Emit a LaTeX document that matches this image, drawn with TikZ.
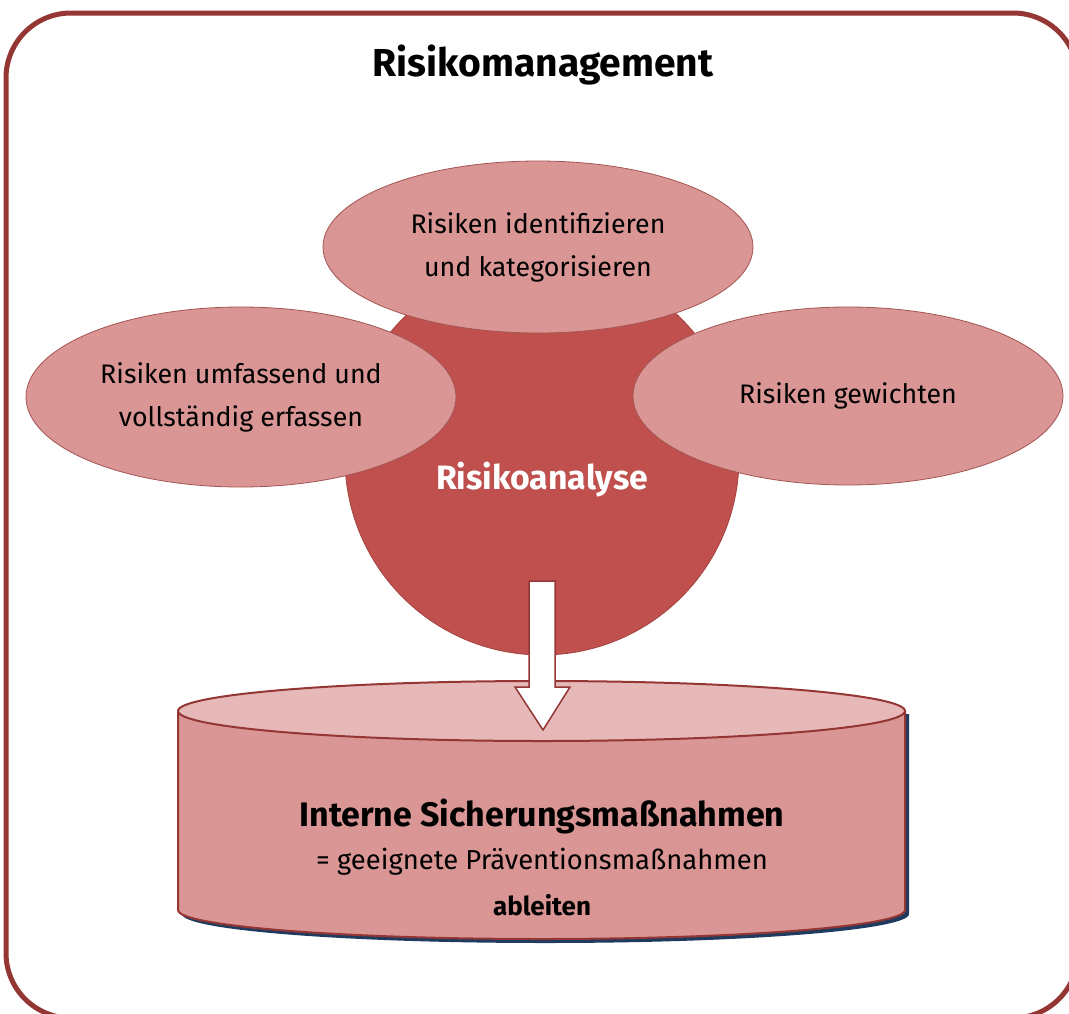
\documentclass[tikz,border=0pt]{standalone}
\usepackage{fontspec}
\setmainfont{Fira Sans}
\usetikzlibrary{shapes.geometric}
\definecolor{rahmen}{HTML}{943634}
\definecolor{kreis}{HTML}{C0504D}
\definecolor{hell}{HTML}{D99694}
\definecolor{deckel}{HTML}{E6B9B8}
\definecolor{schatten}{HTML}{1F3B5F}

\begin{document}
\begin{tikzpicture}[x=1pt,y=-1pt,
    blase/.style={ellipse, draw=rahmen!85, fill=hell, line width=0.8pt, inner sep=0pt,
      minimum width=430pt, minimum height=172pt, align=center,
      font=\fontsize{26.8}{43}\selectfont}]
    \useasboundingbox (0,0) rectangle (1069,1013);
    % Rahmen
    \begin{scope}
      \clip (0,0) rectangle (1069,1013);
      \draw[rahmen, line width=5pt, rounded corners=65pt] (6,13) rectangle (1078,1018);
    \end{scope}
    \node[font=\fontsize{39}{45}\selectfont\bfseries] (titel) at (543,65) {Risikomanagement};

    \node[circle, fill=kreis, draw=kreis!85!black, line width=0.8pt, minimum size=394pt, inner sep=0pt] (analyse) at (542,458) {};
    \node[blase] (identifizieren) at (538,247) {Risiken identifizieren\\und kategorisieren};
    \node[blase, minimum height=180pt] (erfassen) at (241,397) {Risiken umfassend und\\vollständig erfassen};
    \node[blase, minimum height=178pt] (gewichten) at (848,396) {Risiken gewichten};
    \node[text=white, font=\fontsize{33.8}{38}\selectfont\bfseries] (analysetext) at (542,480) {Risikoanalyse};

    % Zylinder mit Schatten
    \fill[schatten] (182,714) -- (182,914) arc[start angle=180, end angle=0, x radius=363.5, y radius=29] -- (909,714) -- cycle;
    \draw[rahmen, line width=2pt, fill=hell] (178,711) -- (178,910) arc[start angle=180, end angle=0, x radius=363.5, y radius=29] -- (905,711) -- cycle;
    \draw[rahmen, line width=2pt, fill=deckel] (541.5,711) ellipse [x radius=363.5, y radius=30];

    \draw[rahmen, line width=1.5pt, fill=white] (529,581) -- (555,581) -- (555,687) -- (570,687) -- (543,730) -- (515,687) -- (529,687) -- cycle;

    \node[font=\fontsize{34}{38}\selectfont\bfseries] (massnahmen) at (542,816) {Interne Sicherungsmaßnahmen};
    \node[font=\fontsize{27.4}{30}\selectfont] (praevention) at (542,862) {= geeignete Präventionsmaßnahmen};
    \node[font=\fontsize{26}{30}\selectfont\bfseries] (ableiten) at (542,905) {ableiten};
\end{tikzpicture}
\end{document}
